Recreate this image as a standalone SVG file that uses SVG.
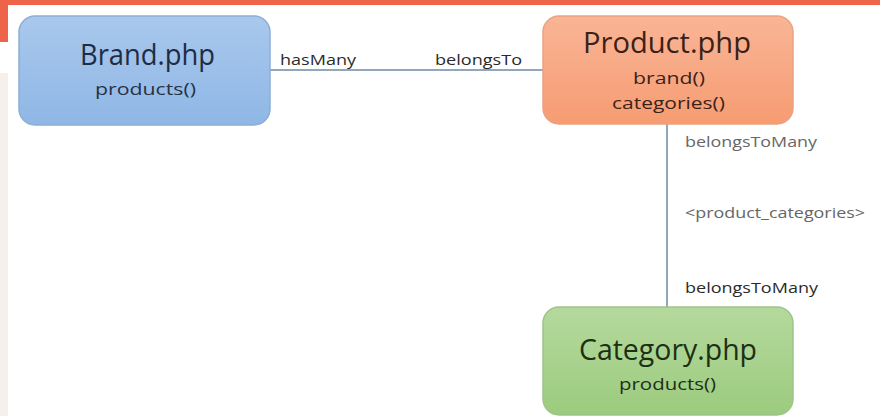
<svg xmlns="http://www.w3.org/2000/svg" width="880" height="416" viewBox="0 0 880 416">
<defs>
<linearGradient id="gb" x1="0" y1="0" x2="0" y2="1"><stop offset="0" stop-color="#a9c8ec"/><stop offset="1" stop-color="#8fb7e6"/></linearGradient>
<linearGradient id="go" x1="0" y1="0" x2="0" y2="1"><stop offset="0" stop-color="#f9b596"/><stop offset="1" stop-color="#f69c72"/></linearGradient>
<linearGradient id="gg" x1="0" y1="0" x2="0" y2="1"><stop offset="0" stop-color="#b5d99d"/><stop offset="1" stop-color="#9ccb7e"/></linearGradient>
<style>
.t{font-family:"Open Sans","Liberation Sans",sans-serif}
.h{font-size:29px}
.s{font-size:17px}
.l{font-family:"Open Sans","Liberation Sans",sans-serif;font-size:14px;fill:#2a2a2a}
.g{fill:#666}
.c{stroke:#6f8aa6;stroke-width:1.5;fill:none}
</style>
</defs>
<rect width="880" height="416" fill="#ffffff"/>
<rect x="0" y="0" width="880" height="5" fill="#ee6449"/>
<rect x="0" y="0" width="8" height="42" fill="#ee6449"/>
<rect x="0" y="73" width="8" height="343" fill="#f5f0ec"/>
<g id="connectors">
<line class="c" x1="270" y1="70" x2="544" y2="70"/>
<line class="c" x1="667" y1="124" x2="667" y2="308"/>
<text class="l" x="280" y="65" textLength="76" lengthAdjust="spacingAndGlyphs">hasMany</text>
<text class="l" x="435" y="65" textLength="87" lengthAdjust="spacingAndGlyphs">belongsTo</text>
<text class="l g" x="685" y="147" font-size="13" textLength="132" lengthAdjust="spacingAndGlyphs">belongsToMany</text>
<text class="l g" x="685" y="218" font-size="13" textLength="180" lengthAdjust="spacingAndGlyphs">&lt;product_categories&gt;</text>
<text class="l" x="685" y="293" textLength="133" lengthAdjust="spacingAndGlyphs">belongsToMany</text>
</g>
<g id="brand">
<rect x="19" y="16" width="251" height="109" rx="16" fill="url(#gb)" stroke="#8daed6" stroke-width="1.5"/>
<text class="t h" x="80" y="65" fill="#1e2d44" textLength="135" lengthAdjust="spacingAndGlyphs">Brand.php</text>
<text class="t s" x="95" y="95" fill="#263245" textLength="101" lengthAdjust="spacingAndGlyphs">products()</text>
</g>
<g id="product">
<rect x="543" y="16" width="250" height="108" rx="16" fill="url(#go)" stroke="#e9a283" stroke-width="1.5"/>
<text class="t h" x="583" y="53" fill="#3b2218" textLength="168" lengthAdjust="spacingAndGlyphs">Product.php</text>
<text class="t s" x="633" y="84" fill="#3b2218" textLength="72" lengthAdjust="spacingAndGlyphs">brand()</text>
<text class="t s" x="612" y="109" fill="#3b2218" textLength="113" lengthAdjust="spacingAndGlyphs">categories()</text>
</g>
<g id="category">
<rect x="543" y="307" width="250" height="108" rx="16" fill="url(#gg)" stroke="#9fc48a" stroke-width="1.5"/>
<text class="t h" x="579" y="360" fill="#1d3014" textLength="178" lengthAdjust="spacingAndGlyphs">Category.php</text>
<text class="t s" x="619" y="390" fill="#1d3014" textLength="97" lengthAdjust="spacingAndGlyphs">products()</text>
</g>
</svg>
